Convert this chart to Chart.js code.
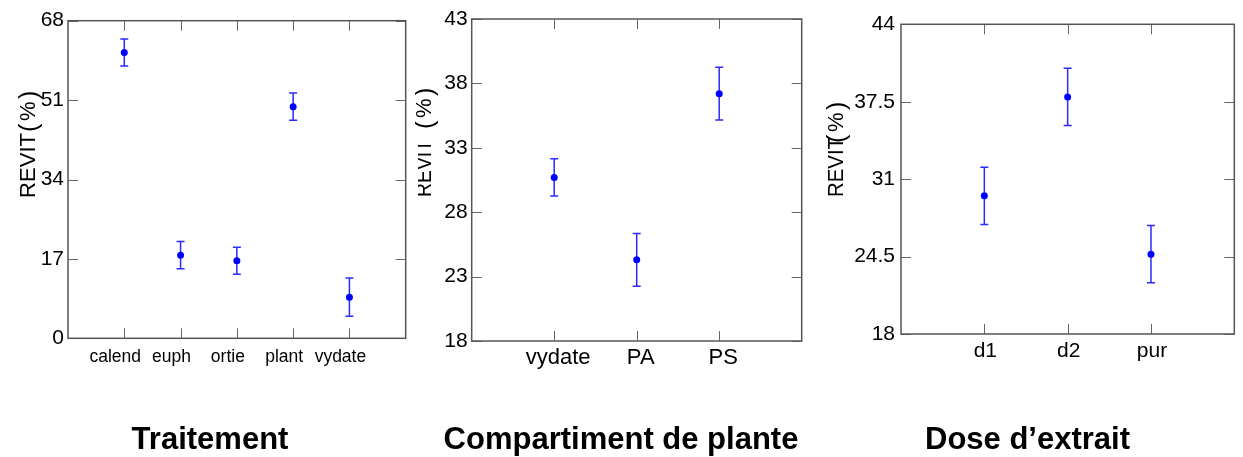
<!DOCTYPE html>
<html>
<head>
<meta charset="utf-8">
<title>REVIT</title>
<script src="https://cdn.jsdelivr.net/npm/chart.js@4.4.1/dist/chart.umd.min.js"></script>
<style>
  body { margin: 0; background: #fff; width: 1243px; height: 457px; overflow: hidden; position: relative; }
  canvas { position: absolute; top: 0; }
</style>
</head>
<body>
<canvas id="trait" width="415" height="457" style="left:0px"></canvas>
<canvas id="compart" width="397" height="457" style="left:415px"></canvas>
<canvas id="dose" width="431" height="457" style="left:812px"></canvas>
<script>
'use strict';

// Traitement
let traitNames = ['calend', 'euph', 'ortie', 'plant', 'vydate'];
let traitMeans = [61.2, 17.8, 16.6, 49.6, 8.8];
let traitErr = [2.9, 2.9, 2.9, 2.9, 4.1];
let traitTicks = [0, 17, 34, 51, 68];

// Compartiment de plante
let compNames = ['vydate', 'PA', 'PS'];
let compMeans = [30.7, 24.3, 37.2];
let compErr = [1.45, 2.05, 2.05];
let compTicks = [18, 23, 28, 33, 38, 43];

// Dose d'extrait
let doseNames = ['d1', 'd2', 'pur'];
let doseMeans = [29.6, 37.9, 24.7];
let doseErr = [2.4, 2.4, 2.4];
let doseTicks = [18, 24.5, 31, 37.5, 44];

const FONT = "'Liberation Sans', Arial, sans-serif";

// frame, inward ticks on all four sides, error bars and the axis titles
const panelPlugin = {
  id: 'panel',
  beforeDatasetsDraw(chart, args, opts) {
    let ctx = chart.ctx;
    let xs = chart.scales.x, ys = chart.scales.y;
    let pts = chart.data.datasets[0].data;
    ctx.save();
    ctx.strokeStyle = '#2b2bff';
    ctx.lineWidth = 1.5;
    for (let i = 0; i < pts.length; i++) {
      let px = xs.getPixelForValue(pts[i].x);
      let top = ys.getPixelForValue(pts[i].y + opts.err[i]);
      let bot = ys.getPixelForValue(pts[i].y - opts.err[i]);
      ctx.beginPath();
      ctx.moveTo(px, top); ctx.lineTo(px, bot);
      ctx.moveTo(px - 4, top); ctx.lineTo(px + 4, top);
      ctx.moveTo(px - 4, bot); ctx.lineTo(px + 4, bot);
      ctx.stroke();
    }
    ctx.restore();
  },
  afterDraw(chart, args, opts) {
    let ctx = chart.ctx;
    let a = chart.chartArea;
    let xs = chart.scales.x, ys = chart.scales.y;
    ctx.save();
    ctx.strokeStyle = '#666';
    ctx.lineWidth = 1;
    ctx.beginPath();
    ys.ticks.forEach(t => {
      let py = Math.round(ys.getPixelForValue(t.value)) + 0.5;
      ctx.moveTo(a.left, py); ctx.lineTo(a.left + 10, py);
      ctx.moveTo(a.right, py); ctx.lineTo(a.right - 10, py);
    });
    xs.ticks.forEach(t => {
      let px = Math.round(xs.getPixelForValue(t.value)) + 0.5;
      ctx.moveTo(px, a.bottom); ctx.lineTo(px, a.bottom - 10);
      ctx.moveTo(px, a.top); ctx.lineTo(px, a.top + 10);
    });
    ctx.stroke();
    ctx.strokeStyle = '#555';
    ctx.lineWidth = 1.5;
    ctx.strokeRect(a.left, a.top, a.right - a.left, a.bottom - a.top);

    // y title, rotated
    let yt = opts.yTitle;
    ctx.fillStyle = '#000';
    ctx.save();
    ctx.translate(yt.baseX, yt.startY);
    ctx.rotate(-Math.PI / 2);
    ctx.textBaseline = 'alphabetic';
    ctx.textAlign = 'left';
    ctx.font = '22px ' + FONT;
    ctx.save();
    if (yt.clipX !== undefined) {
      ctx.beginPath();
      ctx.rect(0, -(yt.baseX - yt.clipX), 400, 400);
      ctx.clip();
    }
    let w = ctx.measureText('REVIT').width;
    ctx.scale(yt.len / w, 1);
    ctx.fillText('REVIT', 0, 0);
    ctx.restore();
    ctx.font = '25px ' + FONT;
    ctx.fillText('(', yt.parenAt, 2);
    ctx.font = '22px ' + FONT;
    ctx.fillText('%', yt.parenAt + 11, 0);
    ctx.font = '25px ' + FONT;
    ctx.fillText(')', yt.parenAt + 33, 2);
    ctx.restore();

    // x title, bold underneath
    ctx.font = 'bold 31px ' + FONT;
    ctx.textAlign = 'center';
    ctx.textBaseline = 'middle';
    ctx.fillText(opts.xTitle.text, opts.xTitle.x, opts.xTitle.y);
    ctx.restore();
  }
};

function makePanel(id, names, means, err, yTicks, box) {
  let points = [];
  for (let i = 0; i < names.length; i++) {
    points.push({ x: i + 1, y: means[i] });
  }
  let canvas = document.getElementById(id);
  let H = canvas.height;
  return new Chart(canvas.getContext('2d'), {
    type: 'scatter',
    data: {
      datasets: [{
        data: points,
        pointRadius: 3.5,
        pointHoverRadius: 3.5,
        backgroundColor: '#0000ff',
        borderWidth: 0
      }]
    },
    options: {
      responsive: false,
      animation: false,
      events: [],
      layout: { padding: { top: box.top, right: canvas.width - box.right, left: 0, bottom: 0 } },
      plugins: {
        legend: { display: false },
        tooltip: { enabled: false },
        panel: { err: err, xTitle: box.xTitle, yTitle: box.yTitle }
      },
      scales: {
        x: {
          type: 'linear',
          min: 0,
          max: names.length + 1,
          grid: { display: false, drawTicks: false },
          border: { display: false },
          afterBuildTicks: s => { s.ticks = names.map((n, i) => ({ value: i + 1 })); },
          afterFit: s => { s.height = H - box.bottom; },
          ticks: {
            autoSkip: false,
            maxRotation: 0,
            padding: box.xPad,
            labelOffset: box.xShift,
            color: '#000',
            font: { family: FONT, size: box.xFont },
            callback: v => names[v - 1]
          }
        },
        y: {
          min: yTicks[0],
          max: yTicks[yTicks.length - 1],
          grid: { display: false, drawTicks: false },
          border: { display: false },
          afterBuildTicks: s => { s.ticks = yTicks.map(v => ({ value: v })); },
          afterFit: s => { s.width = box.left; },
          ticks: {
            padding: box.yPad,
            color: '#000',
            font: { family: FONT, size: 21 },
            callback: v => String(v)
          }
        }
      }
    },
    plugins: [panelPlugin]
  });
}

makePanel('trait', traitNames, traitMeans, traitErr, traitTicks, {
  left: 68, right: 405.7, top: 20.7, bottom: 338.3,
  xPad: 8, xShift: -9, xFont: 17.5, yPad: 4,
  xTitle: { text: 'Traitement', x: 210, y: 440 },
  yTitle: { baseX: 35, startY: 198, len: 65, parenAt: 66 }
});

makePanel('compart', compNames, compMeans, compErr, compTicks, {
  left: 56.7, right: 386.7, top: 19, bottom: 341,
  xPad: 4, xShift: 4, xFont: 22, yPad: 4,
  xTitle: { text: 'Compartiment de plante', x: 206, y: 440 },
  yTitle: { baseX: 16, startY: 197, len: 57, parenAt: 68, clipX: 3 }
});

makePanel('dose', doseNames, doseMeans, doseErr, doseTicks, {
  left: 89, right: 422.3, top: 24.3, bottom: 334,
  xPad: 5, xShift: 1, xFont: 21, yPad: 6,
  xTitle: { text: 'Dose d\u2019extrait', x: 215.5, y: 440 },
  yTitle: { baseX: 31, startY: 197, len: 60, parenAt: 54 }
});
</script>
</body>
</html>
